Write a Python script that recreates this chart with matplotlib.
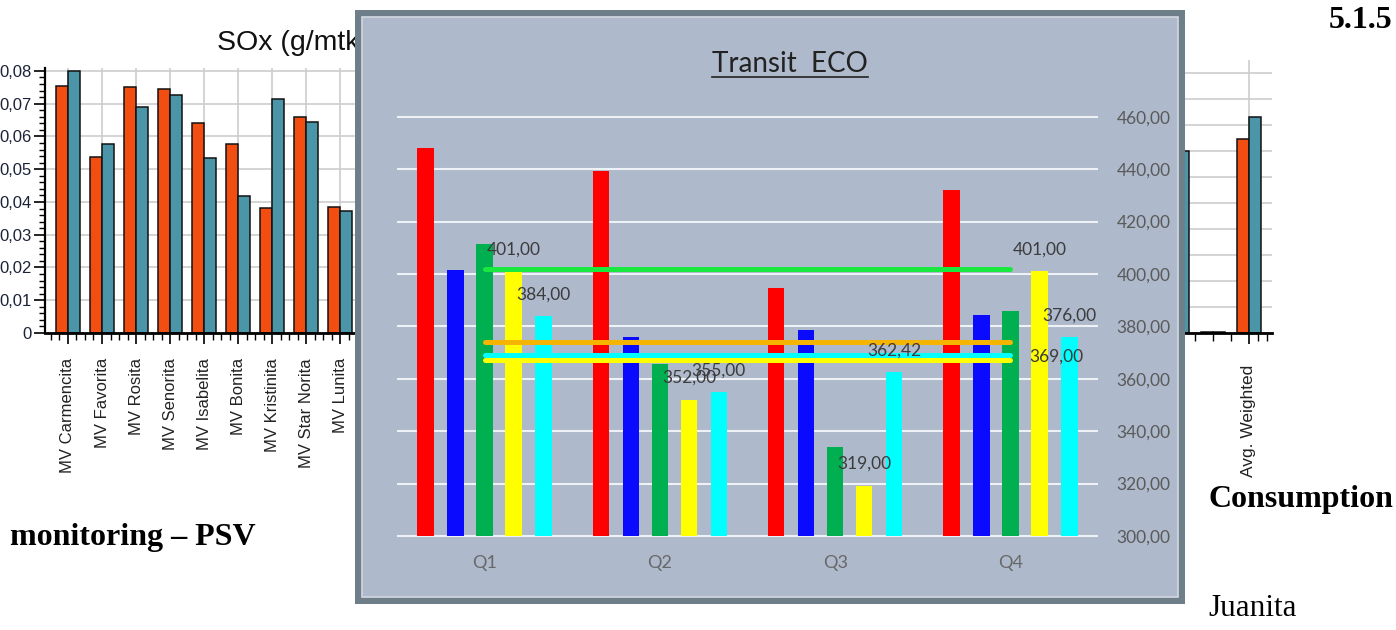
import matplotlib
matplotlib.use('Agg')
import matplotlib.pyplot as plt
from matplotlib.patches import Rectangle
from matplotlib.lines import Line2D
from matplotlib.ticker import MultipleLocator, FixedLocator
import numpy as np

W, H = 1396, 630

# SOx per vessel (two periods)
ships = ['MV Carmencita', 'MV Favorita', 'MV Rosita', 'MV Senorita', 'MV Isabelita',
         'MV Bonita', 'MV Kristinita', 'MV Star Norita', 'MV Lunita']
sox_a = [0.0755, 0.0538, 0.0752, 0.0744, 0.0642, 0.0577, 0.0381, 0.0660, 0.0384]
sox_b = [0.0800, 0.0577, 0.0691, 0.0727, 0.0533, 0.0419, 0.0713, 0.0643, 0.0372]

# neighbouring chart, right-hand end
right_cats = ['', '', 'Avg. Weighted']
right_a = [6.6, 0.03, 7.46]
right_b = [7.0, 0.03, 8.31]

# Transit ECO per quarter
quarters = ['Q1', 'Q2', 'Q3', 'Q4']
eco_red = [448.0, 439.5, 394.5, 432.0]
eco_blue = [401.5, 376.0, 378.5, 384.5]
eco_green = [411.5, 365.5, 334.0, 386.0]
eco_yellow = [401.0, 352.0, 319.0, 401.0]
eco_cyan = [384.0, 355.0, 362.42, 376.0]
lvl_green = 402.0
lvl_orange = 374.0
lvl_cyan = 369.0
lvl_yellow = 367.0

ORANGE = '#F24E12'
TEAL = '#4A96A8'


def box(x0, y0, x1, y1):
    return [x0 / W, 1 - y1 / H, (x1 - x0) / W, (y1 - y0) / H]


def comma(v):
    return f'{v:.2f}'.replace('.', ',')


plt.rcParams['font.family'] = ['Lato', 'DejaVu Sans']
fig = plt.figure(figsize=(W / 100, H / 100), dpi=100)
fig.patch.set_facecolor('white')

# ---- SOx chart behind the panel ----
ax1 = fig.add_axes(box(45, 68, 370, 333), zorder=1)
x = np.arange(len(ships))
ax1.bar(x - 0.18, sox_a, 0.36, color=ORANGE, edgecolor='#111111', lw=1.1, zorder=2)
ax1.bar(x + 0.18, sox_b, 0.36, color=TEAL, edgecolor='#111111', lw=1.1, zorder=2)
ax1.set_xlim(-0.676, 8.88)
ax1.set_ylim(0, 0.0809)
yt = np.arange(0, 0.081, 0.01)
ax1.set_yticks(yt)
ax1.set_yticklabels(['0'] + [comma(v) for v in yt[1:]], family='Liberation Sans',
                    fontsize=12, color='#1c2238')
ax1.yaxis.set_minor_locator(MultipleLocator(0.002))
ax1.set_xticks(x)
ax1.set_xticklabels(ships, rotation=90, family='Liberation Sans', fontsize=12,
                    color='#222222', va='top', ha='center')
ax1.xaxis.set_minor_locator(MultipleLocator(0.25))
ax1.tick_params(axis='y', which='major', length=8, width=1.2, pad=1.5)
ax1.tick_params(axis='y', which='minor', length=4, width=1.0)
ax1.tick_params(axis='x', which='major', length=8, width=1.2, pad=10)
ax1.tick_params(axis='x', which='minor', length=5, width=1.0)
ax1.grid(True, which='major', color='#cdcdcd', lw=1.2)
ax1.set_axisbelow(True)
for s in ['top', 'right']:
    ax1.spines[s].set_visible(False)
ax1.spines['left'].set_linewidth(1.6)
ax1.spines['bottom'].set_linewidth(2.0)
ax1.text(217 / W, 1 - 50 / H, 'SOx (g/mtkm)', transform=fig.transFigure,
         family='Liberation Sans', fontsize=20.5, color='#111111',
         ha='left', va='baseline')

# ---- right-hand chart fragment ----
ax2 = fig.add_axes(box(1160, 60, 1272, 333), zorder=1)
xr = np.arange(len(right_cats))
ax2.bar(xr - 0.17, right_a, 0.34, color=ORANGE, edgecolor='#111111', lw=1.1, zorder=2)
ax2.bar(xr + 0.17, right_b, 0.34, color=TEAL, edgecolor='#111111', lw=1.1, zorder=2)
ax2.set_xlim(-0.47, 2.64)
ax2.set_ylim(0, 10.5)
ax2.set_yticks(range(0, 11))
ax2.set_yticklabels([])
ax2.tick_params(axis='y', length=0)
shown = [i for i, c in enumerate(right_cats) if c]
ax2.set_xticks(shown)
ax2.set_xticklabels([right_cats[i] for i in shown], rotation=90,
                    family='Liberation Sans', fontsize=12.5, color='#222222',
                    va='top', ha='center')
ax2.xaxis.set_minor_locator(FixedLocator([0.5, 1.0, 1.5, 2.25, 2.5]))
ax2.tick_params(axis='x', which='major', length=8, width=1.2, pad=15)
ax2.tick_params(axis='x', which='minor', length=6, width=1.0)
ax2.grid(True, which='major', color='#cdcdcd', lw=1.2)
ax2.set_axisbelow(True)
for s in ['top', 'right', 'left']:
    ax2.spines[s].set_visible(False)
ax2.spines['bottom'].set_linewidth(2.0)

# ---- document text ----
serif = 'Liberation Serif'
fig.text(1392 / W, 1 - 28 / H, '5.1.5', family=serif, weight='bold', fontsize=23,
         ha='right', va='baseline', zorder=1)
fig.text(10 / W, 1 - 545 / H, 'monitoring – PSV', family=serif, weight='bold',
         fontsize=23, ha='left', va='baseline', zorder=1)
fig.text(1208 / W, 1 - 507 / H, 'Consumption', family=serif, weight='bold',
         fontsize=23, ha='left', va='baseline', zorder=1)
fig.text(1208 / W, 1 - 616 / H, 'Juanita', family=serif, fontsize=22.5,
         ha='left', va='baseline', zorder=1)

# ---- Transit ECO panel ----
fig.add_artist(Rectangle((355 / W, 1 - 604 / H), 830 / W, 594 / H,
                         transform=fig.transFigure, fc='#6F7F89', ec='none', zorder=5))
fig.add_artist(Rectangle((362 / W, 1 - 597 / H), 816 / W, 580 / H,
                         transform=fig.transFigure, fc='#AEB9CB', ec='#D2D8E1',
                         lw=1.2, zorder=5.1))

ax3 = fig.add_axes(box(397, 111.6, 1098, 538.6), zorder=6)
ax3.patch.set_visible(False)
q = np.arange(len(quarters))
bw = 0.094
offs = [-0.337, -0.166, 0.0, 0.166, 0.337]
series = [(eco_red, '#FF0000'), (eco_blue, '#0A0AFF'), (eco_green, '#00AF50'),
          (eco_yellow, '#FFFF00'), (eco_cyan, '#00FFFF')]
for (vals, col), off in zip(series, offs):
    ax3.bar(q + off, np.array(vals) - 300, bw, bottom=300, color=col, zorder=2)

for lvl, col in [(lvl_green, '#19E83E'), (lvl_orange, '#F5B400'),
                 (lvl_cyan, '#00FFFF'), (lvl_yellow, '#FFFF00')]:
    ax3.plot([q[0], q[-1]], [lvl, lvl], color=col, lw=3.6,
             solid_capstyle='round', zorder=3)

lab = dict(textcoords='offset points', ha='center', va='center', fontsize=12.5,
           color='#3c3c3c', zorder=4)
for i, v in enumerate(eco_yellow):
    ax3.annotate(comma(v), (q[i] + offs[3], v), xytext=(0, 16), **lab)
for i, v in enumerate(eco_cyan):
    ax3.annotate(comma(v), (q[i] + offs[4], v), xytext=(0, 15.5), **lab)
ax3.annotate(comma(lvl_cyan), (q[-1], lvl_cyan), xytext=(13.5, -1),
             textcoords='offset points', ha='left', va='center', fontsize=12.5,
             color='#3c3c3c', zorder=4)

ax3.set_xlim(-0.5, 3.5)
ax3.set_ylim(299, 462)
yt3 = np.arange(300, 461, 20)
ax3.set_yticks(yt3)
ax3.set_yticklabels([comma(v) for v in yt3])
ax3.yaxis.tick_right()
ax3.tick_params(axis='y', length=0, pad=13.5, labelsize=12.5, labelcolor='#5a5a5a')
ax3.set_xticks(q)
ax3.set_xticklabels(quarters)
ax3.tick_params(axis='x', length=0, pad=12, labelsize=13, labelcolor='#686868')
ax3.grid(True, axis='y', color='#EEF1F5', lw=1.5)
ax3.set_axisbelow(True)
for s in ax3.spines.values():
    s.set_visible(False)

title = fig.text(790 / W, 1 - 72 / H, 'Transit  ECO', fontsize=20, color='#222222',
                 ha='center', va='baseline', zorder=7)
fig.canvas.draw()
bb = title.get_window_extent(fig.canvas.get_renderer())
fig.add_artist(Line2D([bb.x0 / W, bb.x1 / W], [1 - 77 / H, 1 - 77 / H],
                      transform=fig.transFigure, color='#222222', lw=1.2, zorder=7))

fig.savefig('out.png', dpi=100)
